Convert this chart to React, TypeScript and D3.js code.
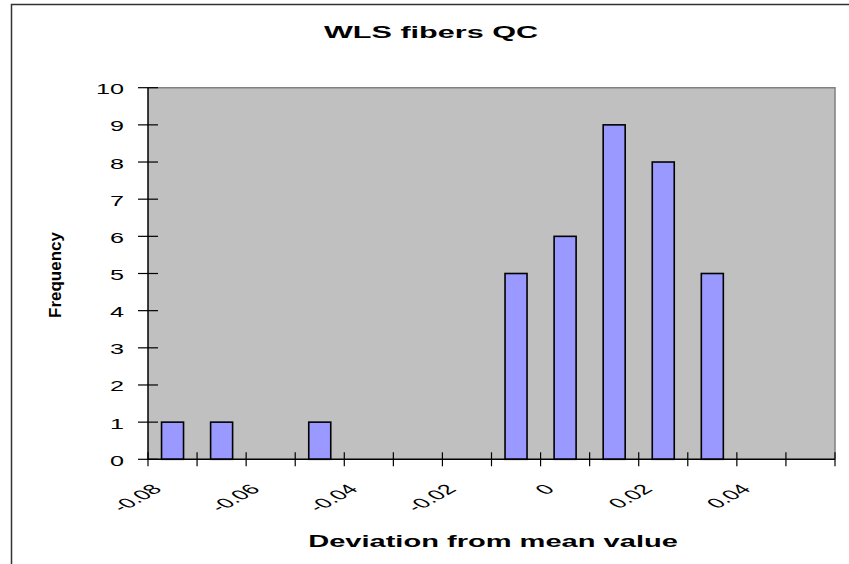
import React, { useEffect, useRef } from 'react';
import * as d3 from 'd3';

// histogram bins (lower edge, upper edge) and counts
const binLower = [-0.08, -0.07, -0.05, -0.01, 0, 0.01, 0.02, 0.03];
const binUpper = [-0.07, -0.06, -0.04, 0, 0.01, 0.02, 0.03, 0.04];
const frequency = [1, 1, 1, 5, 6, 9, 8, 5];

const xTicks = [-0.08, -0.07, -0.06, -0.05, -0.04, -0.03, -0.02, -0.01, 0, 0.01, 0.02, 0.03, 0.04, 0.05, 0.06];
const xLabelValues = [-0.08, -0.06, -0.04, -0.02, 0, 0.02, 0.04];
const xLabels = ['-0.08', '-0.06', '-0.04', '-0.02', '0', '0.02', '0.04'];
const yTicks = [0, 1, 2, 3, 4, 5, 6, 7, 8, 9, 10];

const FONT = '"Liberation Sans", Arial, sans-serif';

const App: React.FC = () => {
  const svgRef = useRef<SVGSVGElement>(null);

  useEffect(() => {
    if (!svgRef.current) return;
    const svg = d3.select(svgRef.current);
    svg.selectAll('*').remove();

    const width = 849;
    const height = 564;
    const plot = { left: 148, right: 835, top: 87.7, bottom: 459.3 };

    const x = d3.scaleLinear().domain([-0.08, 0.06]).range([plot.left, plot.right]);
    const y = d3.scaleLinear().domain([0, 10]).range([plot.bottom, plot.top]);

    // outer chart frame (runs off the page on the right and bottom)
    svg.append('rect')
      .attr('x', 11.5).attr('y', 4.5)
      .attr('width', width + 20).attr('height', height + 20)
      .attr('fill', '#fff')
      .attr('stroke', '#333').attr('stroke-width', 1.5);

    // plot area
    svg.append('rect')
      .attr('x', plot.left).attr('y', plot.top)
      .attr('width', plot.right - plot.left).attr('height', plot.bottom - plot.top)
      .attr('fill', '#c0c0c0');
    svg.append('path')
      .attr('d', `M${plot.left},${plot.top}H${plot.right}V${plot.bottom}`)
      .attr('fill', 'none').attr('stroke', '#808080').attr('stroke-width', 1.5);

    // bars
    const barW = 22;
    svg.append('g').selectAll('rect')
      .data(frequency)
      .join('rect')
      .attr('x', (_, i) => (x(binLower[i]) + x(binUpper[i])) / 2 - barW / 2)
      .attr('y', d => y(d))
      .attr('width', barW)
      .attr('height', d => plot.bottom - y(d))
      .attr('fill', '#9999ff')
      .attr('stroke', '#000').attr('stroke-width', 1.6);

    // axes lines
    svg.append('line')
      .attr('x1', plot.left).attr('x2', plot.left)
      .attr('y1', plot.top).attr('y2', plot.bottom)
      .attr('stroke', '#000').attr('stroke-width', 1.5);
    svg.append('line')
      .attr('x1', plot.left).attr('x2', plot.right)
      .attr('y1', plot.bottom).attr('y2', plot.bottom)
      .attr('stroke', '#000').attr('stroke-width', 1.5);

    // y ticks (cross) and labels
    const yg = svg.append('g');
    yg.selectAll('line')
      .data(yTicks)
      .join('line')
      .attr('x1', plot.left - 10).attr('x2', plot.left + 10)
      .attr('y1', d => y(d)).attr('y2', d => y(d))
      .attr('stroke', '#000').attr('stroke-width', 1.2);
    yg.selectAll('text')
      .data(yTicks)
      .join('text')
      .attr('transform', d => `translate(124,${y(d) + 6.5}) scale(1.8,1)`)
      .attr('text-anchor', 'end')
      .attr('font-family', FONT)
      .attr('font-size', 14)
      .attr('fill', '#000')
      .text(d => String(d));

    // x ticks (cross) and rotated labels
    const xg = svg.append('g');
    xg.selectAll('line')
      .data(xTicks)
      .join('line')
      .attr('x1', d => x(d)).attr('x2', d => x(d))
      .attr('y1', plot.bottom - 7).attr('y2', plot.bottom + 7)
      .attr('stroke', '#000').attr('stroke-width', 1.2);
    xg.selectAll('text')
      .data(xLabelValues)
      .join('text')
      .attr('transform', d => `translate(${x(d) + 15},490) scale(1.8,1) rotate(-45)`)
      .attr('text-anchor', 'end')
      .attr('font-family', FONT)
      .attr('font-size', 14)
      .attr('fill', '#000')
      .text((_, i) => xLabels[i]);

    // titles
    svg.append('text')
      .attr('transform', 'translate(431,38) scale(1.8,1)')
      .attr('text-anchor', 'middle')
      .attr('font-family', FONT).attr('font-weight', 'bold').attr('font-size', 17)
      .text('WLS fibers QC');

    svg.append('text')
      .attr('transform', 'translate(493,547) scale(1.71,1)')
      .attr('text-anchor', 'middle')
      .attr('font-family', FONT).attr('font-weight', 'bold').attr('font-size', 17)
      .text('Deviation from mean value');

    svg.append('text')
      .attr('transform', 'translate(60.5,275) rotate(-90)')
      .attr('text-anchor', 'middle')
      .attr('font-family', FONT).attr('font-weight', 'bold').attr('font-size', 17)
      .text('Frequency');
  }, []);

  return (
    <svg
      ref={svgRef}
      width={849}
      height={564}
      style={{ position: 'absolute', left: 0, top: 0, display: 'block' }}
    />
  );
};

export default App;
